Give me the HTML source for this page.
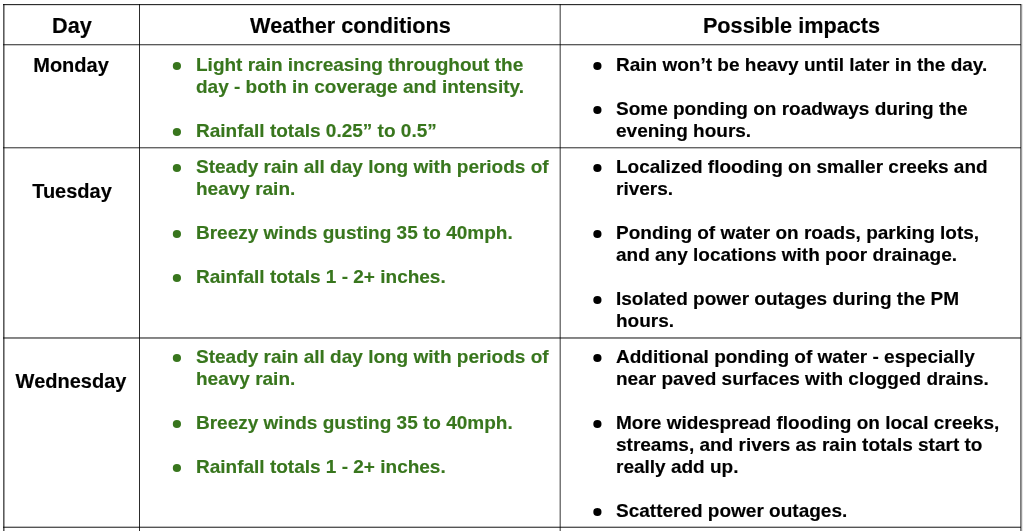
<!DOCTYPE html>
<html><head><meta charset="utf-8"><style>
html,body{margin:0;padding:0;background:#fff;}
body{width:1023px;height:531px;position:relative;overflow:hidden;font-family:"Liberation Sans",sans-serif;font-weight:bold;}
.h{position:absolute;left:3px;width:1018px;height:1px;background:#333;mix-blend-mode:multiply;}
.v{position:absolute;top:4px;width:1px;height:527px;background:#333;mix-blend-mode:multiply;}
.t{position:absolute;white-space:pre;will-change:transform;-webkit-text-stroke:0.15px currentColor;}
.dots{position:absolute;left:0;top:0;}
</style></head><body>
<div class="h" style="top:4px;background:#2e2e2e"></div>
<div class="h" style="top:5px;background:#dcdcdc"></div>
<div class="h" style="top:44px;background:#5a5a5a"></div>
<div class="h" style="top:45px;background:#c8c8c8"></div>
<div class="h" style="top:147px;background:#666666"></div>
<div class="h" style="top:148px;background:#c0c0c0"></div>
<div class="h" style="top:337px;background:#838383"></div>
<div class="h" style="top:338px;background:#8a8a8a"></div>
<div class="h" style="top:526px;background:#bdbdbd"></div>
<div class="h" style="top:527px;background:#555555"></div>
<div class="v" style="left:3px;background:#5a5a5a"></div>
<div class="v" style="left:4px;background:#a0a0a0"></div>
<div class="v" style="left:139px;background:#2c2c2c"></div>
<div class="v" style="left:559px;background:#bbbbbb"></div>
<div class="v" style="left:560px;background:#777777"></div>
<div class="v" style="left:1020px;background:#7a7a7a"></div>
<div class="v" style="left:1021px;background:#999999"></div>
<div class="v" style="left:1022px;background:#e8e8e8"></div>
<div class="t" style="left:3.5px;width:136px;text-align:center;top:13px;font-size:21.7px;line-height:25px;color:#000">Day</div>
<div class="t" style="left:139.5px;width:421px;text-align:center;top:13px;font-size:21.7px;line-height:25px;color:#000">Weather conditions</div>
<div class="t" style="left:560.5px;width:461px;text-align:center;top:13px;font-size:21.7px;line-height:25px;color:#000">Possible impacts</div>
<div class="t" style="left:2.8px;width:136px;text-align:center;top:54px;font-size:20px;line-height:22px;color:#000">Monday</div>
<div class="t" style="left:3.5px;width:136px;text-align:center;top:180px;font-size:20px;line-height:22px;color:#000">Tuesday</div>
<div class="t" style="left:2.5px;width:136px;text-align:center;top:370px;font-size:20px;line-height:22px;color:#000">Wednesday</div>
<div class="t" style="left:195.5px;top:54px;font-size:19px;line-height:21px;color:#38761d">Light rain increasing throughout the</div>
<div class="t" style="left:195.5px;top:76px;font-size:19px;line-height:21px;color:#38761d">day - both in coverage and intensity.</div>
<div class="t" style="left:195.5px;top:120px;font-size:19px;line-height:21px;color:#38761d">Rainfall totals 0.25” to 0.5”</div>
<div class="t" style="left:616px;top:54px;font-size:19px;line-height:21px;color:#000">Rain won’t be heavy until later in the day.</div>
<div class="t" style="left:616px;top:98px;font-size:19px;line-height:21px;color:#000">Some ponding on roadways during the</div>
<div class="t" style="left:616px;top:120px;font-size:19px;line-height:21px;color:#000">evening hours.</div>
<div class="t" style="left:195.5px;top:156px;font-size:19px;line-height:21px;color:#38761d">Steady rain all day long with periods of</div>
<div class="t" style="left:195.5px;top:178px;font-size:19px;line-height:21px;color:#38761d">heavy rain.</div>
<div class="t" style="left:195.5px;top:222px;font-size:19px;line-height:21px;color:#38761d">Breezy winds gusting 35 to 40mph.</div>
<div class="t" style="left:195.5px;top:266px;font-size:19px;line-height:21px;color:#38761d">Rainfall totals 1 - 2+ inches.</div>
<div class="t" style="left:616px;top:156px;font-size:19px;line-height:21px;color:#000">Localized flooding on smaller creeks and</div>
<div class="t" style="left:616px;top:178px;font-size:19px;line-height:21px;color:#000">rivers.</div>
<div class="t" style="left:616px;top:222px;font-size:19px;line-height:21px;color:#000">Ponding of water on roads, parking lots,</div>
<div class="t" style="left:616px;top:244px;font-size:19px;line-height:21px;color:#000">and any locations with poor drainage.</div>
<div class="t" style="left:616px;top:288px;font-size:19px;line-height:21px;color:#000">Isolated power outages during the PM</div>
<div class="t" style="left:616px;top:310px;font-size:19px;line-height:21px;color:#000">hours.</div>
<div class="t" style="left:195.5px;top:346px;font-size:19px;line-height:21px;color:#38761d">Steady rain all day long with periods of</div>
<div class="t" style="left:195.5px;top:368px;font-size:19px;line-height:21px;color:#38761d">heavy rain.</div>
<div class="t" style="left:195.5px;top:412px;font-size:19px;line-height:21px;color:#38761d">Breezy winds gusting 35 to 40mph.</div>
<div class="t" style="left:195.5px;top:456px;font-size:19px;line-height:21px;color:#38761d">Rainfall totals 1 - 2+ inches.</div>
<div class="t" style="left:616px;top:346px;font-size:19px;line-height:21px;color:#000">Additional ponding of water - especially</div>
<div class="t" style="left:616px;top:368px;font-size:19px;line-height:21px;color:#000">near paved surfaces with clogged drains.</div>
<div class="t" style="left:616px;top:412px;font-size:19px;line-height:21px;color:#000">More widespread flooding on local creeks,</div>
<div class="t" style="left:616px;top:434px;font-size:19px;line-height:21px;color:#000">streams, and rivers as rain totals start to</div>
<div class="t" style="left:616px;top:456px;font-size:19px;line-height:21px;color:#000">really add up.</div>
<div class="t" style="left:616px;top:500px;font-size:19px;line-height:21px;color:#000">Scattered power outages.</div>
<svg class="dots" width="1023" height="531"><circle cx="176.90" cy="66.00" r="4.1" fill="#38761d"/><circle cx="176.90" cy="132.00" r="4.1" fill="#38761d"/><circle cx="597.40" cy="66.00" r="4.1" fill="#000"/><circle cx="597.40" cy="110.00" r="4.1" fill="#000"/><circle cx="176.90" cy="168.00" r="4.1" fill="#38761d"/><circle cx="176.90" cy="234.00" r="4.1" fill="#38761d"/><circle cx="176.90" cy="278.00" r="4.1" fill="#38761d"/><circle cx="597.40" cy="168.00" r="4.1" fill="#000"/><circle cx="597.40" cy="234.00" r="4.1" fill="#000"/><circle cx="597.40" cy="300.00" r="4.1" fill="#000"/><circle cx="176.90" cy="358.00" r="4.1" fill="#38761d"/><circle cx="176.90" cy="424.00" r="4.1" fill="#38761d"/><circle cx="176.90" cy="468.00" r="4.1" fill="#38761d"/><circle cx="597.40" cy="358.00" r="4.1" fill="#000"/><circle cx="597.40" cy="424.00" r="4.1" fill="#000"/><circle cx="597.40" cy="512.00" r="4.1" fill="#000"/></svg>
</body></html>
